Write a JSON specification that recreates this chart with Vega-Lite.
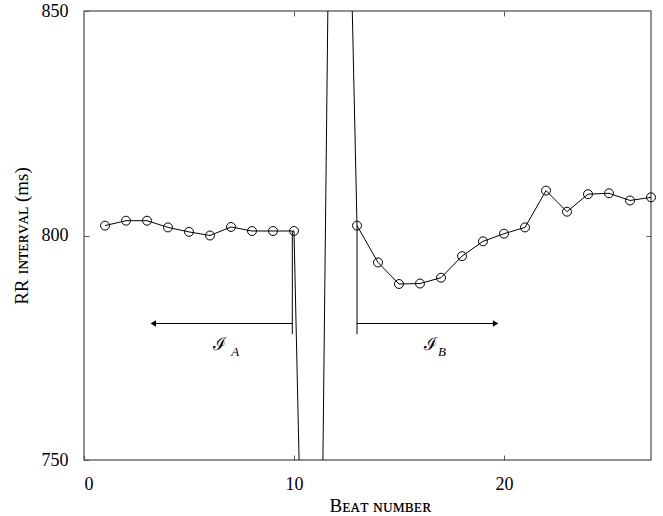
{
  "$schema": "https://vega.github.io/schema/vega-lite/v6.json",
  "width": 567,
  "height": 449,
  "autosize": {"type": "none"},
  "padding": {"left": 84, "top": 11, "right": 12, "bottom": 56},
  "background": "white",
  "config": {
    "view": {"stroke": "#6e6e6e", "strokeWidth": 1.5},
    "font": "Liberation Serif"
  },
  "datasets": {
    "rr": [
      {"beat": 1, "rr": 802.2}, {"beat": 2, "rr": 803.3}, {"beat": 3, "rr": 803.3},
      {"beat": 4, "rr": 801.8}, {"beat": 5, "rr": 800.8}, {"beat": 6, "rr": 800.0},
      {"beat": 7, "rr": 801.9}, {"beat": 8, "rr": 801.0}, {"beat": 9, "rr": 801.0},
      {"beat": 10, "rr": 801.0}, {"beat": 11, "rr": 590}, {"beat": 12, "rr": 1015},
      {"beat": 13, "rr": 802.2}, {"beat": 14, "rr": 794.0}, {"beat": 15, "rr": 789.2},
      {"beat": 16, "rr": 789.3}, {"beat": 17, "rr": 790.6}, {"beat": 18, "rr": 795.4},
      {"beat": 19, "rr": 798.7}, {"beat": 20, "rr": 800.4}, {"beat": 21, "rr": 801.8},
      {"beat": 22, "rr": 810.0}, {"beat": 23, "rr": 805.3}, {"beat": 24, "rr": 809.2},
      {"beat": 25, "rr": 809.4}, {"beat": 26, "rr": 807.8}, {"beat": 27, "rr": 808.5}
    ],
    "segs": [
      {"x": 9.92, "x2": 9.92, "y": 801.0, "y2": 778.0},
      {"x": 13.0, "x2": 13.0, "y": 802.2, "y2": 778.0},
      {"x": 9.92, "x2": 3.3, "y": 780.4, "y2": 780.4},
      {"x": 13.0, "x2": 19.6, "y": 780.4, "y2": 780.4}
    ],
    "heads": [
      {"x": 3.3, "y": 780.4, "dir": "left"},
      {"x": 19.6, "y": 780.4, "dir": "right"}
    ],
    "labels": [
      {"x": 6.45, "y": 775.6, "t": "ℐ"},
      {"x": 16.5, "y": 775.6, "t": "ℐ"}
    ],
    "subs": [
      {"x": 7.2, "y": 774.0, "t": "A"},
      {"x": 17.05, "y": 774.0, "t": "B"}
    ]
  },
  "resolve": {"axis": {"x": "independent", "y": "independent"}},
  "layer": [
    {
      "data": {"name": "rr"},
      "mark": {"type": "line", "color": "black", "strokeWidth": 1, "clip": true},
      "encoding": {
        "x": {"field": "beat", "type": "quantitative",
              "scale": {"domain": [0, 27], "nice": false, "zero": false},
              "axis": {"orient": "bottom", "values": [0, 10, 20], "grid": false, "domain": false,
                       "tickSize": -5, "tickColor": "#555", "labelFontSize": 18, "labelPadding": 20,
                       "labelColor": "black", "labelFont": "Liberation Serif",
                       "title": "Bᴇᴀᴛ ɴᴜᴍʙᴇʀ", "titleFont": "Liberation Serif", "titleFontSize": 19,
                       "titleFontWeight": "normal", "titleColor": "black", "titlePadding": 3, "titleX": 296}},
        "y": {"field": "rr", "type": "quantitative",
              "scale": {"domain": [750, 850], "nice": false, "zero": false},
              "axis": {"orient": "left", "values": [750, 800, 850], "grid": false, "domain": false,
                       "tickSize": -5, "tickColor": "#555", "labelFontSize": 18, "labelPadding": 21,
                       "labelColor": "black", "labelFont": "Liberation Serif",
                       "title": "RR ɪɴᴛᴇʀᴠᴀʟ (ms)", "titleFont": "Liberation Serif", "titleFontSize": 19,
                       "titleFontWeight": "normal", "titleColor": "black", "titlePadding": 10}}
      }
    },
    {
      "data": {"name": "rr"},
      "transform": [{"filter": "datum.rr >= 750 && datum.rr <= 850"}],
      "mark": {"type": "point", "shape": "circle", "filled": false, "stroke": "black", "strokeWidth": 1, "size": 80, "opacity": 1},
      "encoding": {
        "x": {"field": "beat", "type": "quantitative",
              "axis": {"orient": "top", "values": [10, 20], "grid": false, "domain": false, "labels": false,
                       "tickSize": -5, "tickColor": "#555", "title": null}},
        "y": {"field": "rr", "type": "quantitative",
              "axis": {"orient": "right", "values": [800], "grid": false, "domain": false, "labels": false,
                       "tickSize": -5, "tickColor": "#555", "title": null}}
      }
    },
    {
      "data": {"name": "segs"},
      "mark": {"type": "rule", "color": "black", "strokeWidth": 1},
      "encoding": {
        "x": {"field": "x", "type": "quantitative", "axis": null},
        "x2": {"field": "x2"},
        "y": {"field": "y", "type": "quantitative", "axis": null},
        "y2": {"field": "y2"}
      }
    },
    {
      "data": {"name": "heads"},
      "mark": {"type": "point", "filled": true, "color": "black", "size": 40, "opacity": 1},
      "encoding": {
        "x": {"field": "x", "type": "quantitative", "axis": null},
        "y": {"field": "y", "type": "quantitative", "axis": null},
        "shape": {"field": "dir", "type": "nominal",
                  "scale": {"domain": ["left", "right"], "range": ["triangle-left", "triangle-right"]},
                  "legend": null}
      }
    },
    {
      "data": {"name": "labels"},
      "mark": {"type": "text", "font": "DejaVu Serif", "fontSize": 18, "color": "black"},
      "encoding": {
        "x": {"field": "x", "type": "quantitative", "axis": null},
        "y": {"field": "y", "type": "quantitative", "axis": null},
        "text": {"field": "t"}
      }
    },
    {
      "data": {"name": "subs"},
      "mark": {"type": "text", "font": "Liberation Serif", "fontSize": 13, "fontStyle": "italic", "color": "black"},
      "encoding": {
        "x": {"field": "x", "type": "quantitative", "axis": null},
        "y": {"field": "y", "type": "quantitative", "axis": null},
        "text": {"field": "t"}
      }
    }
  ]
}
